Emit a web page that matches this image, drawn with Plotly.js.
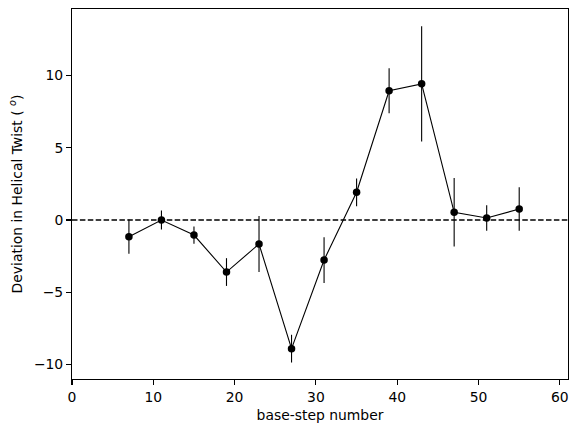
<!DOCTYPE html>
<html>
<head>
<meta charset="utf-8">
<script src="https://cdn.plot.ly/plotly-3.0.1.min.js"></script>
<style>html,body{margin:0;padding:0;background:#fff;}#plot{width:578px;height:432px;}</style>
</head>
<body>
<div id="plot"></div>
<script>
const baseStep = [7, 11, 15, 19, 23, 27, 31, 35, 39, 43, 47, 51, 55];
const twistDeviation = [-1.15, 0.0, -1.04, -3.6, -1.66, -8.9, -2.77, 1.92, 8.94, 9.42, 0.53, 0.14, 0.76];
const twistError = [1.18, 0.65, 0.6, 0.96, 1.93, 0.96, 1.58, 0.96, 1.56, 3.98, 2.37, 0.88, 1.51];
const xTicks = [0, 10, 20, 30, 40, 50, 60];
const yTicks = [-10, -5, 0, 5, 10];

const font = {family: 'DejaVu Sans', size: 13.9, color: '#000'};
const trace = {
  x: baseStep, y: twistDeviation, type: 'scatter', mode: 'lines+markers',
  line: {color: '#000', width: 1.1},
  marker: {color: '#000', size: 7.5},
  error_y: {type: 'data', array: twistError, visible: true, color: '#000', thickness: 1.1, width: 0},
  showlegend: false, hoverinfo: 'none'
};
const axisCommon = {
  showgrid: false, zeroline: false, showline: true, linecolor: '#000', linewidth: 1.1,
  mirror: true, ticks: 'outside', ticklen: 4.9, tickwidth: 1.1, tickcolor: '#000',
  tickfont: font
};
const layout = {
  width: 578, height: 432,
  margin: {l: 72, r: 10, t: 9, b: 53},
  paper_bgcolor: '#fff', plot_bgcolor: '#fff',
  font: font,
  xaxis: Object.assign({}, axisCommon, {
    range: [0, 61], tickvals: xTicks, ticktext: xTicks.map(String),
    title: {text: 'base-step number', font: font, standoff: 6}
  }),
  yaxis: Object.assign({}, axisCommon, {
    range: [-11.0, 14.6], tickvals: yTicks,
    title: {text: 'Deviation in Helical Twist ( <i><sup>o</sup></i>)', font: font, standoff: 8}
  }),
  shapes: [{type: 'line', xref: 'paper', x0: 0, x1: 1, yref: 'y', y0: 0, y1: 0,
            line: {color: '#000', width: 1.5, dash: '5.5px,2.4px'}, layer: 'below'}]
};
Plotly.newPlot('plot', [trace], layout, {displayModeBar: false, staticPlot: true});
</script>
</body>
</html>
